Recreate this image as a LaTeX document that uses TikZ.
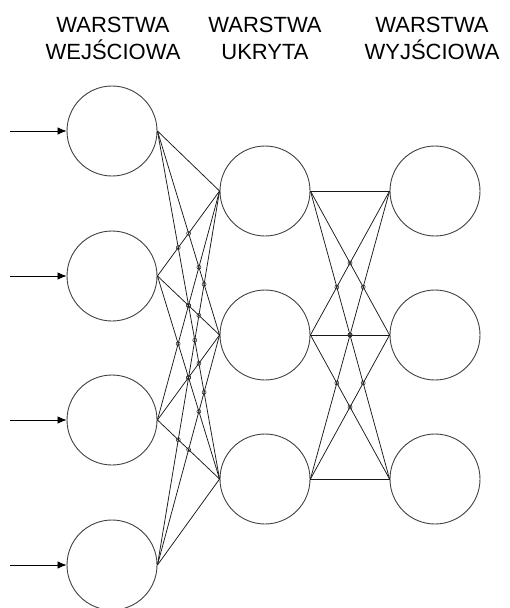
\documentclass[tikz,border=0pt]{standalone}
\usepackage{fontspec}
\setmainfont{Liberation Sans}
\usetikzlibrary{arrows.meta}
\begin{document}
\begin{tikzpicture}[x=1pt,y=-1pt,
  neuron/.style={circle,draw=black!75,line width=0.9pt,minimum size=90pt,inner sep=0pt},
  conn/.style={draw=black!90,line width=0.75pt},
  hop/.style={draw=black!80,line width=0.6pt},
  inarrow/.style={draw=black,line width=0.8pt,-{Latex[length=9pt,width=7.5pt]}},
  title/.style={font=\fontsize{22}{27}\selectfont,align=center,inner sep=0pt,anchor=north,text=black}]
\useasboundingbox (0,0) rectangle (509,608);
% titles
\node[title] (t1) at (113,17) {WARSTWA\\WEJŚCIOWA};
\node[title] (t2) at (265,17) {WARSTWA\\UKRYTA};
\node[title] (t3) at (432,17) {WARSTWA\\WYJŚCIOWA};
% neurons
\node[neuron] (in1) at (112,131) {};
\node[neuron] (in2) at (112,276) {};
\node[neuron] (in3) at (112,420) {};
\node[neuron] (in4) at (112,565) {};
\node[neuron] (hid1) at (265,191) {};
\node[neuron] (hid2) at (265,335) {};
\node[neuron] (hid3) at (265,479) {};
\node[neuron] (out1) at (435,191) {};
\node[neuron] (out2) at (435,335) {};
\node[neuron] (out3) at (435,479) {};
% input arrows
\foreach \i/\y in {1/131,2/276,3/420,4/565}{
  \coordinate (src\i) at (10,\y);
  \draw[inarrow] (src\i) -- (in\i.west);
}
% connections input -> hidden
\foreach \i in {1,...,4}{
  \foreach \j in {1,2,3}{
    \draw[conn] (in\i.east) -- (hid\j.west);
  }
}
% connections hidden -> output
\foreach \j in {1,2,3}{
  \foreach \m in {1,2,3}{
    \draw[conn] (hid\j.east) -- (out\m.west);
  }
}
% line hops at crossings (input -> hidden)
\foreach \i in {1,...,4}{
 \foreach \k in {1,...,4}{
  \foreach \j in {1,2,3}{
   \foreach \l in {1,2,3}{
    \ifnum\i<\k\relax
     \ifnum\j>\l\relax
      \draw[hop] (intersection of in\i.east--hid\j.west and in\k.east--hid\l.west) circle (2pt);
     \fi
    \fi
   }
  }
 }
}
% line hops at crossings (hidden -> output)
\foreach \i in {1,2,3}{
 \foreach \k in {1,2,3}{
  \foreach \j in {1,2,3}{
   \foreach \l in {1,2,3}{
    \ifnum\i<\k\relax
     \ifnum\j>\l\relax
      \draw[hop] (intersection of hid\i.east--out\j.west and hid\k.east--out\l.west) circle (2pt);
     \fi
    \fi
   }
  }
 }
}
\end{tikzpicture}
\end{document}
